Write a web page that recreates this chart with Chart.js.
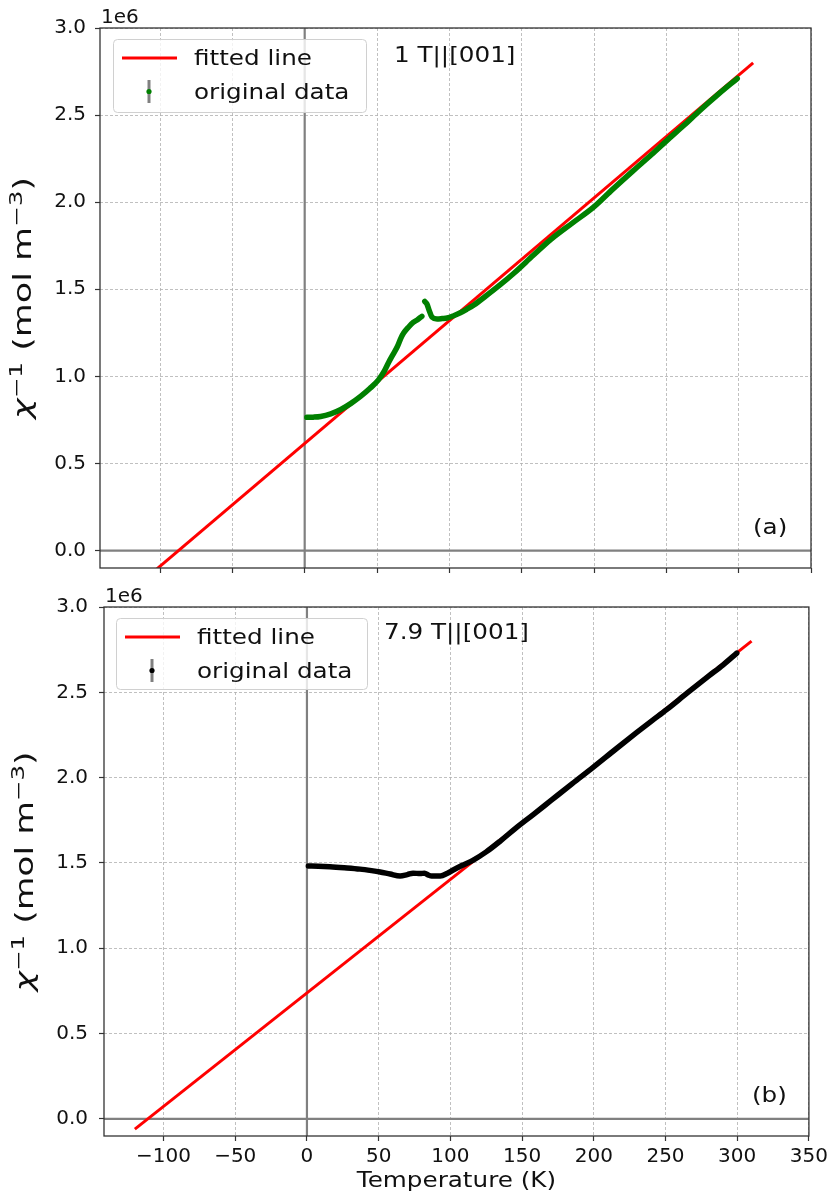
<!DOCTYPE html>
<html>
<head>
<meta charset="utf-8">
<script src="https://cdn.jsdelivr.net/npm/chart.js@4.4.0/dist/chart.umd.min.js"></script>
<style>
  body { margin: 0; background: #fff; width: 832px; height: 1196px; position: relative; overflow: hidden; }
  canvas { position: absolute; left: 0; }
  #c1 { top: 0; }
  #c2 { top: 580px; }
</style>
</head>
<body>
<canvas id="c1" width="832" height="590"></canvas>
<canvas id="c2" width="832" height="616"></canvas>
<script>
// tick positions
const X_TICKS = [-100, -50, 0, 50, 100, 150, 200, 250, 300, 350];
const Y_TICKS = [0, 0.5, 1.0, 1.5, 2.0, 2.5, 3.0];   // x 1e6

// 1 T || [001]  (chi^-1 in units of 1e6 mol m^-3); null = gap before the kink
const T_1T = [1.5, 6, 11, 18, 25, 32, 38.6, 45, 51, 55, 58, 61, 64, 66.5, 68.5, 72, 75, 78, 81, 82.5,
  83, 84.5, 86, 88, 91.5, 95, 98.5, 103, 107.6, 112, 117, 125, 135, 145, 158, 170, 185, 199.5,
  213, 227, 240, 250.5, 262, 273, 286, 299];
const CHI_1T = [0.765, 0.766, 0.77, 0.785, 0.81, 0.845, 0.885, 0.93, 0.98, 1.03, 1.08, 1.125, 1.17, 1.22, 1.25, 1.285, 1.31, 1.325, 1.345, null,
  1.43, 1.415, 1.38, 1.34, 1.33, 1.332, 1.335, 1.348, 1.365, 1.385, 1.41, 1.46, 1.525, 1.595, 1.695, 1.785, 1.88, 1.97,
  2.075, 2.18, 2.275, 2.355, 2.44, 2.525, 2.62, 2.71];

// 7.9 T || [001]
const T_79T = [1, 8, 16, 26, 37, 45, 51, 58, 65, 70, 74, 79, 82, 85, 87, 93, 98, 102, 108, 116, 125, 135,
  145, 158, 170, 185, 199.5, 215, 230, 240, 251, 265, 280, 290, 299.7];
const CHI_79T = [1.482, 1.481, 1.478, 1.472, 1.464, 1.455, 1.447, 1.435, 1.424, 1.432, 1.44, 1.438, 1.44, 1.428, 1.424, 1.424, 1.44, 1.459, 1.485, 1.517, 1.565, 1.63,
  1.70, 1.785, 1.865, 1.965, 2.06, 2.165, 2.265, 2.33, 2.40, 2.495, 2.595, 2.66, 2.73];

// Curie-Weiss fits, end points
const FIT_T = [-120, 310];
const FIT_1T = [-0.231, 2.80];
const FIT_79T = [-0.06, 2.80];

const FONT = 'DejaVu Sans';
const SX = 1.12;   // the reference text is slightly wide

function txt(ctx, s, x, y, size, align, style, sx) {
  ctx.save();
  ctx.font = (style || '') + ' ' + size + 'px "' + FONT + '"';
  ctx.textAlign = align || 'left';
  ctx.textBaseline = 'alphabetic';
  ctx.fillStyle = '#111';
  ctx.translate(x, y);
  ctx.scale(sx || SX, 1);
  ctx.fillText(s, 0, 0);
  ctx.restore();
}

const deco = {
  id: 'deco',
  beforeDatasetsDraw(chart, args, o) {
    const { ctx, chartArea: ca, scales: { x, y } } = chart;
    const x0 = x.getPixelForValue(0), y0 = y.getPixelForValue(0);
    ctx.save();
    ctx.strokeStyle = '#808080';
    ctx.lineWidth = 2.2;
    ctx.beginPath();
    ctx.moveTo(x0, ca.top); ctx.lineTo(x0, ca.bottom);
    ctx.moveTo(ca.left, y0); ctx.lineTo(ca.right, y0);
    ctx.stroke();
    ctx.restore();
  },
  afterDraw(chart, args, o) {
    const { ctx, chartArea: ca } = chart;
    ctx.save();
    // frame
    ctx.strokeStyle = '#333';
    ctx.lineWidth = 1.3;
    ctx.strokeRect(ca.left, ca.top, ca.right - ca.left, ca.bottom - ca.top);

    // offset text and annotations
    txt(ctx, '1e6', ca.left + 1, ca.top - 5, 20, 'left', '', 1);
    txt(ctx, o.note, o.noteX, o.noteY, 22);
    txt(ctx, o.tag, o.tagX, o.tagY, 22);

    // legend
    const L = o.legend;
    ctx.beginPath();
    ctx.roundRect(L.x + 0.5, L.y + 0.5, L.w, L.h, 4);
    ctx.fillStyle = 'rgba(255,255,255,0.8)';
    ctx.fill();
    ctx.strokeStyle = '#d0d0d0';
    ctx.lineWidth = 1;
    ctx.stroke();
    ctx.strokeStyle = '#ff0000';
    ctx.lineWidth = 3;
    ctx.beginPath();
    ctx.moveTo(L.x + 9, L.y + 19); ctx.lineTo(L.x + 64, L.y + 19);
    ctx.stroke();
    txt(ctx, 'fitted line', L.x + 81, L.y + 26, 22);
    ctx.strokeStyle = '#808080';
    ctx.lineWidth = 3;
    ctx.beginPath();
    ctx.moveTo(L.x + 36, L.y + 41); ctx.lineTo(L.x + 36, L.y + 64);
    ctx.stroke();
    ctx.fillStyle = o.dataColor;
    ctx.beginPath();
    ctx.arc(L.x + 36, L.y + 52.5, 2.6, 0, Math.PI * 2);
    ctx.fill();
    txt(ctx, 'original data', L.x + 81, L.y + 60, 22);

    // y title  chi^-1 (mol m^-3), stretched along its length like the reference
    const parts = [['χ', 24, 0, 'italic'], ['−1', 17, -9, ''], [' (mol m', 24, 0, ''], ['−3', 17, -9, ''], [')', 24, 0, '']];
    let total = 0;
    parts.forEach(p => { ctx.font = p[3] + ' ' + p[1] + 'px "' + FONT + '"'; p.push(ctx.measureText(p[0]).width); total += p[4]; });
    ctx.save();
    ctx.translate(o.titleX, (ca.top + ca.bottom) / 2);
    ctx.rotate(-Math.PI / 2);
    ctx.scale(o.titleLen / total, 1);
    let cx = -total / 2;
    parts.forEach(p => { txt(ctx, p[0], cx, p[2], p[1], 'left', p[3], 1); cx += p[4]; });
    ctx.restore();

    if (o.xTitle) {
      txt(ctx, o.xTitle, (ca.left + ca.right) / 2, o.xTitleY, 22, 'center');
    }
    ctx.restore();
  }
};

function fmtX(v) { return v < 0 ? '\u2212' + Math.abs(v) : String(v); }

function panel(id, c) {
  const pts = c.t.map((t, i) => ({ x: t, y: c.chi[i] }));
  const fit = FIT_T.map((t, i) => ({ x: t, y: c.fit[i] }));
  return new Chart(document.getElementById(id), {
    type: 'line',
    data: {
      datasets: [
        { label: 'original data', data: pts, borderColor: c.color, borderWidth: 5.5, pointRadius: 0,
          cubicInterpolationMode: 'monotone', spanGaps: false, borderCapStyle: 'round', borderJoinStyle: 'round', order: 1 },
        { label: 'fitted line', data: fit, borderColor: '#ff0000', borderWidth: 3, pointRadius: 0, order: 2 }
      ]
    },
    options: {
      responsive: false,
      animation: false,
      events: [],
      layout: { padding: c.pad },
      plugins: { legend: { display: false }, tooltip: { enabled: false }, deco: c.deco },
      scales: {
        x: {
          type: 'linear', min: -141.5, max: 350,
          afterBuildTicks: s => { s.ticks = X_TICKS.map(v => ({ value: v })); },
          afterFit: s => { s.height = c.xh; },
          grid: { color: '#b0b0b0', lineWidth: 0.8, tickLength: 5, tickColor: '#333', tickWidth: 1.2 },
          border: { display: false, dash: [3, 2] },
          ticks: { font: { family: FONT, size: 20 }, color: '#111', padding: 4, maxRotation: 0,
                   callback: v => c.xLabels ? fmtX(v) : '' }
        },
        y: {
          type: 'linear', min: -0.1, max: 3.0,
          afterBuildTicks: s => { s.ticks = Y_TICKS.map(v => ({ value: v })); },
          afterFit: s => { s.width = c.yw; },
          grid: { color: '#b0b0b0', lineWidth: 0.8, tickLength: 5, tickColor: '#333', tickWidth: 1.2 },
          border: { display: false, dash: [3, 2] },
          ticks: { font: { family: FONT, size: 20 }, color: '#111', padding: c.ypad,
                   callback: v => v.toFixed(1) }
        }
      }
    },
    plugins: [deco]
  });
}

panel('c1', {
  t: T_1T, chi: CHI_1T, fit: FIT_1T, color: '#008000',
  pad: { top: 28, right: 21, left: 0, bottom: 0 }, xh: 22, yw: 100, ypad: 9, xLabels: false,
  deco: { note: '1 T||[001]', noteX: 394, noteY: 62, tag: '(a)', tagX: 753, tagY: 534,
          legend: { x: 113, y: 39, w: 253, h: 73 }, dataColor: '#008000', titleX: 31, titleLen: 242 }
});

panel('c2', {
  t: T_79T, chi: CHI_79T, fit: FIT_79T, color: '#000000',
  pad: { top: 27, right: 22, left: 0, bottom: 0 }, xh: 60, yw: 104, ypad: 11, xLabels: true,
  deco: { note: '7.9 T||[001]', noteX: 384, noteY: 59, tag: '(b)', tagX: 752, tagY: 522,
          legend: { x: 116, y: 38, w: 251, h: 71 }, dataColor: '#000000', titleX: 33, titleLen: 240,
          xTitle: 'Temperature (K)', xTitleY: 607 }
});
</script>
</body>
</html>
